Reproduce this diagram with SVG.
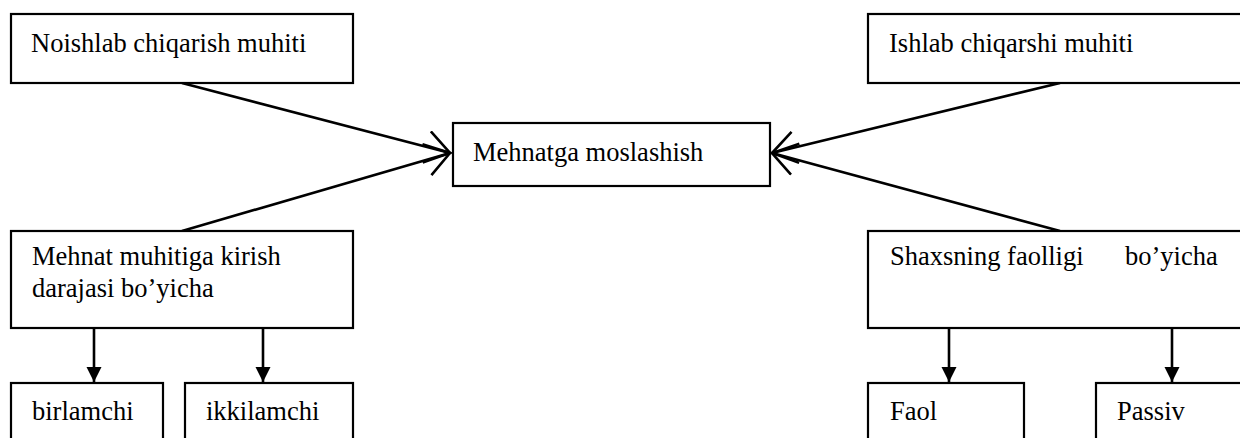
<svg xmlns="http://www.w3.org/2000/svg" width="1240" height="438" viewBox="0 0 1240 438">
<style>
.box{fill:#fff;stroke:#000;stroke-width:2.2}
.t{font-family:"Liberation Serif","Times New Roman",serif;font-size:26.5px;fill:#000}
.ln{stroke:#000;stroke-width:2.6;fill:none}
</style>
<defs>
<marker id="open" markerUnits="userSpaceOnUse" markerWidth="30" markerHeight="36" refX="25" refY="17" orient="auto">
<path d="M1,1 L25,17 L1,33" fill="none" stroke="#000" stroke-width="2.6"/>
</marker>
<marker id="solid" markerUnits="userSpaceOnUse" markerWidth="16" markerHeight="16" refX="15" refY="7.5" orient="auto">
<path d="M0,0 L15,7.5 L0,15 z" fill="#000"/>
</marker>
</defs>
<rect width="1240" height="438" fill="#fff"/>
<g id="connectors">
<line class="ln" x1="182" y1="83" x2="450" y2="153" marker-end="url(#open)"/>
<line class="ln" x1="182" y1="231" x2="450" y2="153" marker-end="url(#open)"/>
<line class="ln" x1="1060" y1="83" x2="772" y2="153" marker-end="url(#open)"/>
<line class="ln" x1="1060" y1="231" x2="772" y2="153" marker-end="url(#open)"/>
<line class="ln" x1="94" y1="329" x2="94" y2="382" marker-end="url(#solid)"/>
<line class="ln" x1="263" y1="329" x2="263" y2="382" marker-end="url(#solid)"/>
<line class="ln" x1="949" y1="329" x2="949" y2="382" marker-end="url(#solid)"/>
<line class="ln" x1="1172" y1="329" x2="1172" y2="382" marker-end="url(#solid)"/>
</g>
<g id="n1"><rect class="box" x="11" y="14" width="342" height="69"/><text class="t" x="31" y="52">Noishlab chiqarish muhiti</text></g>
<g id="n2"><rect class="box" x="868" y="14" width="390" height="69"/><text class="t" x="889" y="52">Ishlab chiqarshi muhiti</text></g>
<g id="n3"><rect class="box" x="453" y="123" width="317" height="63"/><text class="t" x="473" y="161">Mehnatga moslashish</text></g>
<g id="n4"><rect class="box" x="11" y="231" width="342" height="97"/><text class="t" x="32" y="265">Mehnat muhitiga kirish</text><text class="t" x="32" y="297">darajasi bo’yicha</text></g>
<g id="n5"><rect class="box" x="868" y="231" width="390" height="97"/><text class="t" x="890" y="265">Shaxsning faolligi<tspan x="1125">bo’yicha</tspan></text></g>
<g id="n6"><rect class="box" x="11" y="383" width="152" height="70"/><text class="t" x="32" y="420">birlamchi</text></g>
<g id="n7"><rect class="box" x="185" y="383" width="168" height="70"/><text class="t" x="206" y="420">ikkilamchi</text></g>
<g id="n8"><rect class="box" x="868" y="383" width="156" height="70"/><text class="t" x="890" y="420">Faol</text></g>
<g id="n9"><rect class="box" x="1096" y="383" width="162" height="70"/><text class="t" x="1117" y="420">Passiv</text></g>
</svg>
